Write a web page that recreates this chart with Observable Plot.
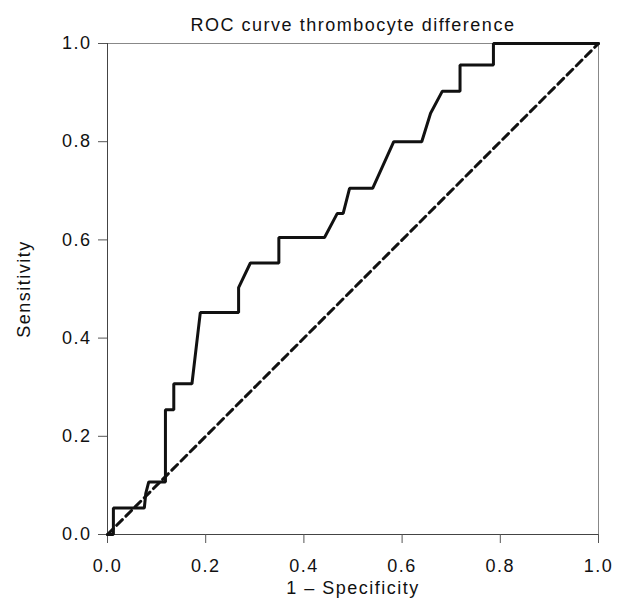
<!DOCTYPE html>
<html>
<head>
<meta charset="utf-8">
<script src="https://cdn.jsdelivr.net/npm/d3@7"></script>
<script src="https://cdn.jsdelivr.net/npm/@observablehq/plot@0.6"></script>
<style>
  html, body { margin: 0; padding: 0; background: #fff; }
</style>
</head>
<body>
<div id="chart"></div>
<script>
// ROC curve points (1 - specificity, sensitivity)
const fpr = [0, 0.012, 0.012, 0.075, 0.078, 0.084, 0.118, 0.118, 0.135, 0.135, 0.172, 0.189, 0.267, 0.267, 0.291, 0.349, 0.349, 0.442, 0.468, 0.480, 0.493, 0.540, 0.583, 0.640, 0.658, 0.682, 0.718, 0.718, 0.786, 0.786, 1.0];
const tpr = [0, 0, 0.054, 0.054, 0.084, 0.107, 0.107, 0.254, 0.254, 0.307, 0.307, 0.452, 0.452, 0.503, 0.553, 0.553, 0.605, 0.605, 0.654, 0.654, 0.705, 0.705, 0.800, 0.800, 0.858, 0.903, 0.903, 0.956, 0.956, 1.0, 1.0];
// Reference (chance) diagonal
const diagX = [0, 1];
const diagY = [0, 1];
// Ticks
const xTicks = [0, 0.2, 0.4, 0.6, 0.8, 1.0];
const yTicks = [0, 0.2, 0.4, 0.6, 0.8, 1.0];
const titleText = "ROC curve thrombocyte difference";
const xLabel = "1 – Specificity";
const yLabel = "Sensitivity";

const curve = fpr.map((x, i) => ({x, y: tpr[i]}));
const diag = diagX.map((x, i) => ({x, y: diagY[i]}));
const fmt = d3.format(".1f");

const chart = Plot.plot({
  width: 622,
  height: 611,
  marginLeft: 107,
  marginRight: 24,
  marginTop: 43,
  marginBottom: 77,
  style: {fontFamily: "'Liberation Sans', Arial, sans-serif", fontSize: "18px", letterSpacing: "1.5px", background: "#fff", color: "#111"},
  x: {domain: [0, 1]},
  y: {domain: [0, 1]},
  marks: [
    Plot.frame({stroke: "#888", strokeWidth: 1}),
    Plot.ruleX([0], {stroke: "#444", strokeWidth: 1}),
    Plot.ruleY([0], {stroke: "#444", strokeWidth: 1}),
    Plot.axisX({ticks: xTicks, tickFormat: fmt, tickSize: 9, tickPadding: 16, fontSize: 18, stroke: "#555", label: null}),
    Plot.axisY({ticks: yTicks, tickFormat: fmt, tickSize: 9, tickPadding: 7, fontSize: 18, stroke: "#555", label: null}),
    Plot.line(diag, {x: "x", y: "y", stroke: "#111", strokeWidth: 3, strokeDasharray: "8,5"}),
    Plot.line(curve, {x: "x", y: "y", stroke: "#111", strokeWidth: 3, strokeLinejoin: "miter"}),
    Plot.text([titleText], {frameAnchor: "top", dy: -13, lineAnchor: "bottom", fontSize: 18, fill: "#111"}),
    Plot.text([xLabel], {frameAnchor: "bottom", dy: 54, lineAnchor: "middle", fontSize: 18, fill: "#111"}),
    Plot.text([yLabel], {frameAnchor: "left", dx: -83, rotate: -90, textAnchor: "middle", lineAnchor: "middle", fontSize: 18, fill: "#111"})
  ]
});
document.getElementById("chart").appendChild(chart);
</script>
</body>
</html>
